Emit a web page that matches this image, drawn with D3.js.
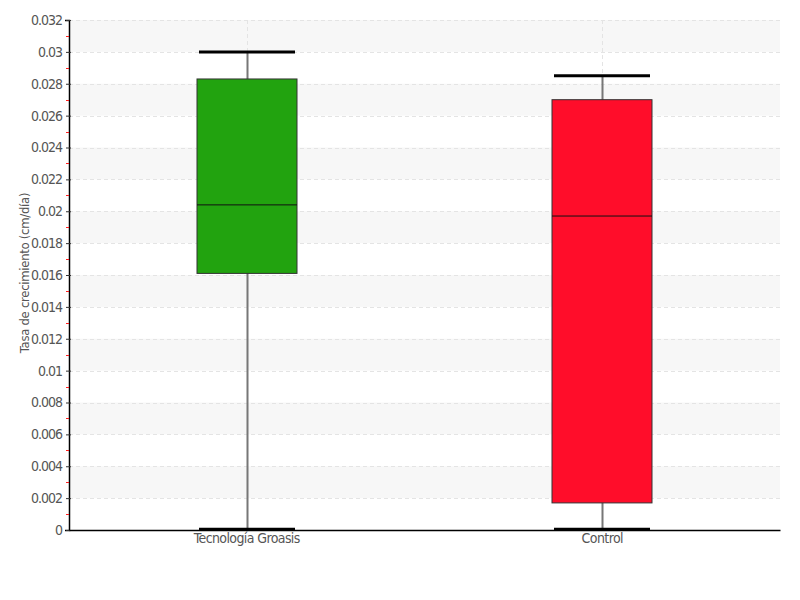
<!DOCTYPE html>
<html>
<head>
<meta charset="utf-8">
<script src="https://cdn.jsdelivr.net/npm/d3@7"></script>
<style>
  body { margin: 0; background: #fff; }
  text { font-family: "DejaVu Sans Condensed", "Liberation Sans Narrow", sans-serif; font-stretch: condensed; }
</style>
</head>
<body>
<div id="chart"></div>
<script>
// Box plot values
const categories = ["Tecnología Groasis", "Control"];
const mins = [0.00005, 0.00005];
const q1s = [0.0161, 0.0017];
const medians = [0.0204, 0.0197];
const q3s = [0.0283, 0.0270];
const maxs = [0.0300, 0.0285];
const colors = ["#22a30f", "#ff0d2a"];
const yTicks = d3.range(0, 0.0321, 0.002);
const yMinorTicks = d3.range(0.001, 0.032, 0.002);

const width = 800, height = 600;
const margin = { top: 20, right: 20, bottom: 70, left: 69 };
const innerW = width - margin.left - margin.right;
const innerH = height - margin.top - margin.bottom;

const svg = d3.select("#chart").append("svg")
    .attr("width", width)
    .attr("height", height);

const g = svg.append("g")
    .attr("transform", `translate(${margin.left},${margin.top})`);

const y = d3.scaleLinear().domain([0, 0.032]).range([innerH, 0]);
const x = d3.scaleBand().domain(categories).range([0, innerW]).padding(0);

// alternating bands
const bandStarts = yTicks.filter((d, i) => i % 2 === 1 && d < 0.032);
g.selectAll(".band")
    .data(bandStarts)
    .enter().append("rect")
    .attr("x", 0)
    .attr("width", innerW)
    .attr("y", d => y(d + 0.002))
    .attr("height", d => y(d) - y(d + 0.002))
    .attr("fill", "#f7f7f7");

// horizontal gridlines
g.selectAll(".hgrid")
    .data(yTicks.slice(1))
    .enter().append("line")
    .attr("x1", 0).attr("x2", innerW)
    .attr("y1", d => Math.round(y(d)) + 0.5)
    .attr("y2", d => Math.round(y(d)) + 0.5)
    .attr("stroke", "#e4e4e4")
    .attr("stroke-dasharray", "4,3");

// vertical gridlines at categories
g.selectAll(".vgrid")
    .data(categories)
    .enter().append("line")
    .attr("x1", d => Math.round(x(d) + x.bandwidth() / 2) + 0.5)
    .attr("x2", d => Math.round(x(d) + x.bandwidth() / 2) + 0.5)
    .attr("y1", 0).attr("y2", innerH)
    .attr("stroke", "#e4e4e4")
    .attr("stroke-dasharray", "4,3");

// boxes
const boxW = 100;
const capW = 96;
const box = g.selectAll(".box")
    .data(categories)
    .enter().append("g")
    .attr("transform", d => `translate(${Math.round(x(d) + x.bandwidth() / 2)},0)`);

box.append("line")
    .attr("x1", 0.5).attr("x2", 0.5)
    .attr("y1", (d, i) => y(maxs[i]))
    .attr("y2", (d, i) => y(mins[i]))
    .attr("stroke", "#777")
    .attr("stroke-width", 2);

box.append("rect")
    .attr("x", -boxW / 2)
    .attr("width", boxW)
    .attr("y", (d, i) => y(q3s[i]))
    .attr("height", (d, i) => y(q1s[i]) - y(q3s[i]))
    .attr("fill", (d, i) => colors[i])
    .attr("stroke", "#333")
    .attr("stroke-width", 1);

box.append("line")
    .attr("x1", -boxW / 2).attr("x2", boxW / 2)
    .attr("y1", (d, i) => y(medians[i]))
    .attr("y2", (d, i) => y(medians[i]))
    .attr("stroke", "#111")
    .attr("stroke-width", 1);

[maxs, mins].forEach(arr => {
  box.append("line")
      .attr("x1", -capW / 2).attr("x2", capW / 2)
      .attr("y1", (d, i) => y(arr[i]))
      .attr("y2", (d, i) => y(arr[i]))
      .attr("stroke", "#000")
      .attr("stroke-width", 3);
});

// y axis
const yAxis = g.append("g")
    .call(d3.axisLeft(y).tickValues(yTicks).tickSize(4).tickPadding(3)
      .tickFormat(d => d3.format("")(+d.toFixed(3))));
yAxis.select(".domain").attr("stroke", "#000").attr("stroke-width", 1.5);
yAxis.selectAll(".tick line").attr("stroke", "#333").attr("x2", 2).attr("x1", -3);
yAxis.selectAll(".tick text").attr("fill", "#555")
    .style("font-size", "14px").style("letter-spacing", "-1px");

// red minor ticks
g.selectAll(".minor")
    .data(yMinorTicks)
    .enter().append("line")
    .attr("x1", -3).attr("x2", 0)
    .attr("y1", d => Math.round(y(d)) + 0.5).attr("y2", d => Math.round(y(d)) + 0.5)
    .attr("stroke", "#ff2020");

// x axis
const xAxis = g.append("g")
    .attr("transform", `translate(0,${innerH})`)
    .call(d3.axisBottom(x).tickSize(0).tickPadding(3));
xAxis.select(".domain").attr("stroke", "#000").attr("stroke-width", 1.5);
xAxis.selectAll(".tick text").attr("fill", "#555")
    .style("font-size", "14px").style("letter-spacing", "-0.6px");

// y label
svg.append("text")
    .attr("transform", `translate(29,${margin.top + innerH / 2 - 2}) rotate(-90)`)
    .attr("text-anchor", "middle")
    .attr("fill", "#555")
    .style("font-size", "13px")
    .style("letter-spacing", "-0.3px")
    .text("Tasa de crecimiento (cm/día)");
</script>
</body>
</html>
